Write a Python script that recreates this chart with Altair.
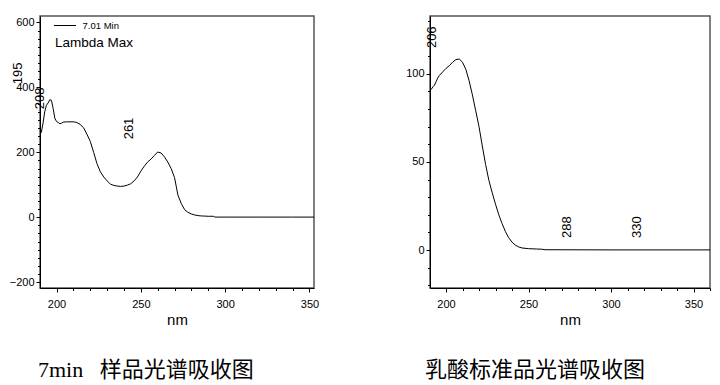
import altair as alt
import pandas as pd

# ---------------- data ----------------
left_nm = [190, 191, 192, 193, 194, 195, 196, 197, 198, 199, 200, 201, 202, 203, 204,
           206, 208, 210, 212, 214, 216, 218, 220, 222, 224, 226, 228, 230, 232, 234,
           236, 238, 240, 242, 244, 246, 248, 250, 252, 254, 256, 258, 260, 262, 264,
           266, 268, 270, 272, 274, 276, 278, 280, 282, 284, 286, 288, 290,
           293, 294, 300, 320, 340, 353]
left_abs = [255, 262, 290, 325, 345, 352, 362, 360, 335, 305, 295, 292, 288, 290, 293,
            294, 294, 294, 292, 286, 276, 256, 234, 200, 165, 140, 124, 112, 102, 98,
            96, 95, 96, 99, 103, 112, 124, 142, 157, 170, 179, 190, 201, 198, 186,
            170, 150, 122, 68, 42, 23, 15, 10, 7, 5, 4, 3.5, 3,
            3, 0.5, 0.5, 0.5, 0.5, 0.5]

right_nm = [190, 191, 192, 193, 194, 195, 196, 198, 200, 202, 204, 206, 208, 210, 212,
            214, 216, 218, 220, 222, 224, 226, 228, 230, 232, 234, 236, 238, 240, 242,
            244, 246, 250, 255, 258, 260, 300, 360]
right_abs = [90.5, 91, 92.5, 93.5, 95.5, 97.5, 99, 101, 103, 104.5, 106.5, 108, 108.3, 106.5, 102.5,
             96, 88, 79, 70, 59, 48.5, 39.5, 32.5, 26, 20, 15, 10.5, 7, 4.5, 2.8,
             1.8, 1.2, 0.8, 0.6, 0.5, 0.2, 0.1, 0.1]

left_peaks = [195, 208, 261]
left_peak_label_y = [410, 333, 240]
right_peaks = [206, 288, 330]
right_peak_label_y = [114.5, 6.8, 6.8]

x_major = [200, 250, 300, 350]
left_x_minor = list(range(200, 351, 10))
right_x_minor = list(range(200, 361, 10))
left_y_major = [-200, 0, 200, 400, 600]
left_y_minor = list(range(-200, 601, 25))
right_y_major = [0, 50, 100]
right_y_minor = list(range(-20, 131, 10))

left_caption = "7min\u00a0\u00a0\u00a0样品光谱吸收图"
right_caption = "乳酸标准品光谱吸收图"
legend_series = ["7.01 Min"]
legend_title = ["Lambda Max"]

AX_FONT = "Liberation Sans"
CAP_FONT = "Liberation Serif, Noto Sans CJK SC"


def panel(nm, ab, peaks, peak_y, xdom, ydom, x_minor, y_major, y_minor,
          width, caption, cap_dx, label_dy, extra=()):
    df = pd.DataFrame({"nm": nm, "absorb": ab})
    xs = alt.Scale(domain=xdom, nice=False, zero=False)
    ys = alt.Scale(domain=ydom, nice=False, zero=False)

    line = alt.Chart(df).mark_line(color="black", strokeWidth=1, clip=True).encode(
        x=alt.X("nm:Q", scale=xs,
                axis=alt.Axis(values=x_major, title="nm", format="d", tickSize=4,
                              labelPadding=6, titlePadding=3, grid=False, labelFlush=False)),
        y=alt.Y("absorb:Q", scale=ys,
                axis=alt.Axis(values=y_major, title=None, format="d", tickSize=4,
                              labelPadding=2, grid=False)),
    )
    minor = alt.Chart(df).mark_line(opacity=0).encode(
        x=alt.X("nm:Q", scale=xs,
                axis=alt.Axis(orient="bottom", values=x_minor, labels=False, title=None,
                              tickSize=2.5, domain=False, grid=False)),
        y=alt.Y("absorb:Q", scale=ys,
                axis=alt.Axis(orient="left", values=y_minor, labels=False, title=None,
                              tickSize=2.5, domain=False, grid=False)),
    )
    lab_df = pd.DataFrame({"nm": peaks, "ly": peak_y, "t": [str(p) for p in peaks]})
    labels = alt.Chart(lab_df).mark_text(
        angle=270, align="left", baseline="middle", dy=label_dy,
        fontSize=13, font=AX_FONT, color="black"
    ).encode(
        x=alt.X("nm:Q", scale=xs, axis=None),
        y=alt.Y("ly:Q", scale=ys, axis=None),
        text="t:N",
    )
    return alt.layer(line, minor, labels, *extra).resolve_axis(
        x="independent", y="independent"
    ).properties(
        width=width, height=272,
        title=alt.TitleParams(caption, orient="bottom", anchor="start", frame="group",
                              font=CAP_FONT, fontSize=22, fontWeight="normal",
                              color="black", offset=33, dx=cap_dx),
    )


leg_line = alt.Chart(pd.DataFrame({"s": legend_series})).mark_rule(
    color="black", strokeWidth=1
).encode(x=alt.value(14), x2=alt.value(36), y=alt.value(9.5))
leg_text = alt.Chart(pd.DataFrame({"s": legend_series})).mark_text(
    align="left", baseline="middle", fontSize=9.5, font=AX_FONT, color="black"
).encode(x=alt.value(42.5), y=alt.value(10), text="s:N")
lam_text = alt.Chart(pd.DataFrame({"s": legend_title})).mark_text(
    align="left", baseline="alphabetic", fontSize=13.5, font=AX_FONT, color="black"
).encode(x=alt.value(15), y=alt.value(31), text="s:N")

left = panel(left_nm, left_abs, left_peaks, left_peak_label_y,
             [190.2, 352.7], [-218, 620], left_x_minor, left_y_major, left_y_minor,
             274, left_caption, -2, -30, extra=(leg_line, leg_text, lam_text))
right = panel(right_nm, right_abs, right_peaks, right_peak_label_y,
              [190.3, 360], [-21.5, 132.7], right_x_minor, right_y_major, right_y_minor,
              280, right_caption, -5, -24)

chart = alt.hconcat(left, right, spacing=116, bounds="flush").properties(
    padding={"left": 0, "top": 7, "right": 0, "bottom": 0}
).configure_axis(
    labelFont=AX_FONT, labelFontSize=11, labelColor="black",
    titleFont=AX_FONT, titleFontSize=15, titleFontWeight="normal", titleColor="black",
    domainColor="black", tickColor="black", domainWidth=1, tickWidth=1,
).configure_view(
    stroke="#555555", strokeWidth=1.5
)

chart.save("out.html", embed_options={"renderer": "svg", "actions": False})
